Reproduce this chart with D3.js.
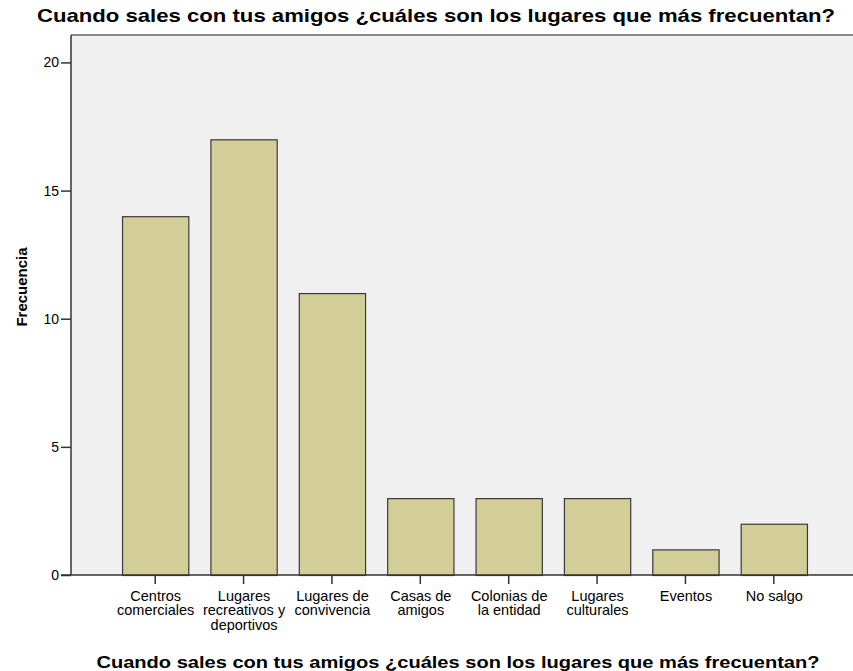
<!DOCTYPE html>
<html>
<head>
<meta charset="utf-8">
<script src="https://cdn.jsdelivr.net/npm/d3@7"></script>
<style>
  body { margin: 0; background: #fff; }
  text { font-family: "Liberation Sans", Arial, sans-serif; fill: #000; }
</style>
</head>
<body>
<div class="chart"></div>
<script>
// data
let categories = ['Centros comerciales', 'Lugares recreativos y deportivos', 'Lugares de convivencia',
                  'Casas de amigos', 'Colonias de la entidad', 'Lugares culturales', 'Eventos', 'No salgo']
let catLines = [['Centros', 'comerciales'], ['Lugares', 'recreativos y', 'deportivos'], ['Lugares de', 'convivencia'],
                ['Casas de', 'amigos'], ['Colonias de', 'la entidad'], ['Lugares', 'culturales'], ['Eventos'], ['No salgo']]
let frecuencia = [14, 17, 11, 3, 3, 3, 1, 2]
let yTicks = [0, 5, 10, 15, 20]
let title = 'Cuando sales con tus amigos ¿cuáles son los lugares que más frecuentan?'

let width = 853, height = 671
let plot = {left: 71, right: 853, top: 35, bottom: 575}

let svg = d3.select('.chart').append('svg')
    .attr('width', width)
    .attr('height', height)

let x = d3.scaleBand()
    .domain(categories)
    .range([111, 818])
    .paddingInner(0.25)
    .paddingOuter(0.125)

let y = d3.scaleLinear()
    .domain([0, 21.07])
    .range([plot.bottom, plot.top])

// plot background
svg.append('rect')
    .attr('x', plot.left)
    .attr('y', plot.top)
    .attr('width', plot.right - plot.left)
    .attr('height', plot.bottom - plot.top)
    .attr('fill', '#f0f0f0')

svg.append('line')
    .attr('x1', plot.left).attr('x2', plot.right)
    .attr('y1', plot.top).attr('y2', plot.top)
    .attr('stroke', '#8a8a8a')
    .attr('stroke-width', 2)

// bars
svg.selectAll('rect.bar')
    .data(frecuencia)
    .enter()
    .append('rect')
    .attr('class', 'bar')
    .attr('x', (d, i) => x(categories[i]) + 0.5)
    .attr('y', d => y(d) + 0.5)
    .attr('width', x.bandwidth())
    .attr('height', d => y(0) - y(d))
    .attr('fill', '#d3ce97')
    .attr('stroke', '#3a3a3a')
    .attr('stroke-width', 1.2)

// y axis
let yAxis = svg.append('g')
    .attr('transform', 'translate(' + plot.left + ',0)')
    .call(d3.axisLeft(y).tickValues(yTicks).tickSize(10).tickPadding(2))
yAxis.select('.domain').attr('stroke', '#333').attr('stroke-width', 1.5)
    .attr('d', 'M0,' + plot.top + 'V' + plot.bottom)
yAxis.selectAll('.tick line').attr('stroke', '#333').attr('stroke-width', 1.5)
yAxis.selectAll('.tick text')
    .style('font-family', '"Liberation Sans", Arial, sans-serif')
    .style('font-size', '14px')
    .attr('fill', '#000')

// x axis
let xAxis = svg.append('g')
    .attr('transform', 'translate(0,' + plot.bottom + ')')
    .call(d3.axisBottom(x).tickSize(9).tickFormat(''))
xAxis.select('.domain').attr('stroke', '#333').attr('stroke-width', 1.5)
    .attr('d', 'M' + (plot.left - 10) + ',0H' + plot.right)
xAxis.selectAll('.tick line').attr('stroke', '#333').attr('stroke-width', 1.5)

categories.forEach((c, i) => {
    let cx = x(c) + x.bandwidth() / 2 + 0.5
    let t = svg.append('text')
        .attr('x', cx)
        .attr('y', 601)
        .attr('text-anchor', 'middle')
        .style('font-size', '14.5px')
    catLines[i].forEach((l, j) => {
        t.append('tspan')
            .attr('x', cx)
            .attr('dy', j == 0 ? 0 : 14.3)
            .text(l)
    })
})

// titles
svg.append('text')
    .attr('x', 436)
    .attr('y', 22)
    .attr('text-anchor', 'middle')
    .attr('textLength', 798)
    .attr('lengthAdjust', 'spacingAndGlyphs')
    .style('font-size', '18.5px')
    .style('font-weight', 'bold')
    .text(title)

svg.append('text')
    .attr('x', 458)
    .attr('y', 668)
    .attr('text-anchor', 'middle')
    .attr('textLength', 723)
    .attr('lengthAdjust', 'spacingAndGlyphs')
    .style('font-size', '17px')
    .style('font-weight', 'bold')
    .text(title)

svg.append('text')
    .attr('transform', 'translate(27,287) rotate(-90)')
    .attr('text-anchor', 'middle')
    .style('font-size', '15px')
    .style('font-weight', 'bold')
    .text('Frecuencia')
</script>
</body>
</html>
